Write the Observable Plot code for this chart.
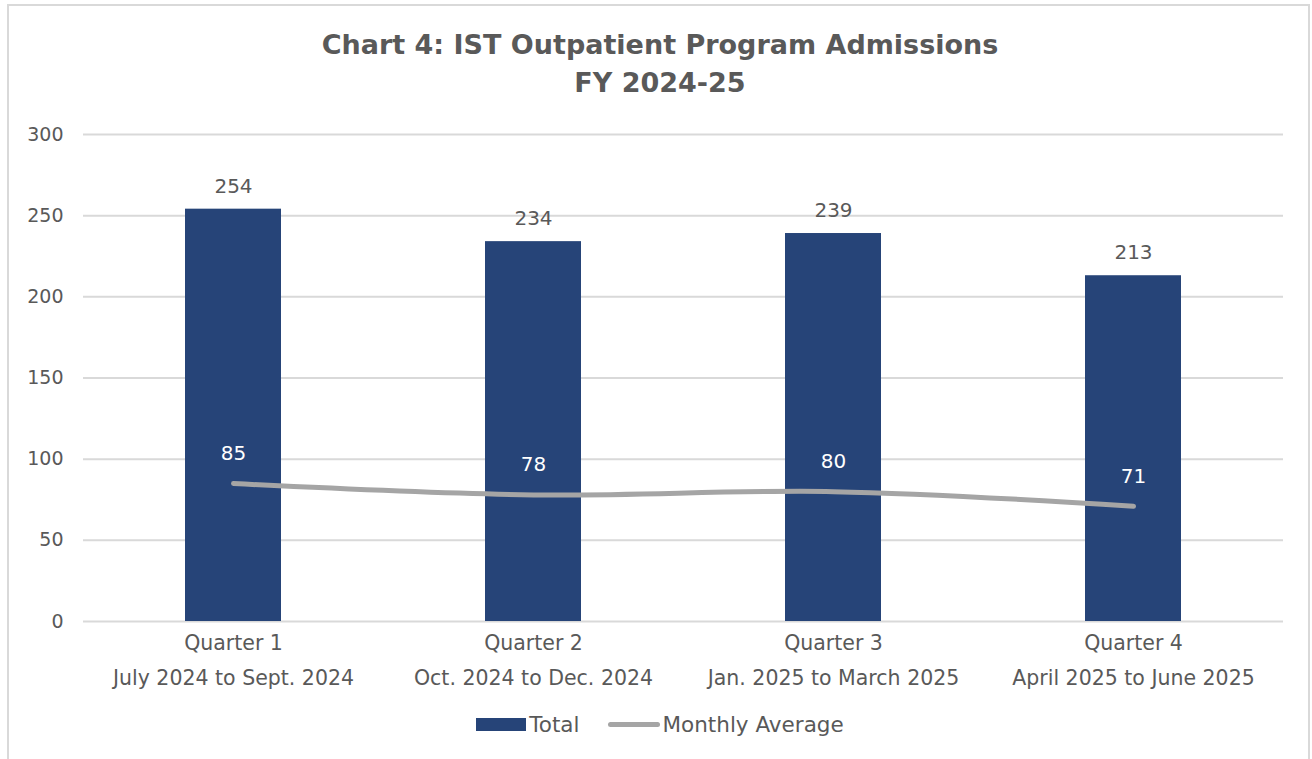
<!DOCTYPE html>
<html>
<head>
<meta charset="utf-8">
<script src="https://cdn.jsdelivr.net/npm/d3@7"></script>
<script src="https://cdn.jsdelivr.net/npm/@observablehq/plot@0.6"></script>
<style>
  html, body { margin: 0; padding: 0; background: #fff; }
  body { width: 1312px; height: 759px; overflow: hidden; position: relative; font-family: "DejaVu Sans", sans-serif; color: #595959; }
  .frame { position: absolute; left: 7px; top: 4px; width: 1303px; height: 820px; border: 2px solid #d9d9d9; box-sizing: border-box; }
  .title { position: absolute; left: 0; top: 26px; width: 1320px; text-align: center; font-weight: bold; font-size: 27px; line-height: 38px; color: #595959; }
  #chart { position: absolute; left: 0; top: 115px; }
  .legend { position: absolute; left: 0; top: 712px; width: 1320px; display: flex; justify-content: center; align-items: center; font-size: 21.5px; color: #595959; }
  .legend .item { display: flex; align-items: center; margin: 0 14px; }
  .sw-bar { width: 50px; height: 13px; background: #264478; margin-right: 3px; }
  .sw-line { width: 52px; height: 5px; border-radius: 3px; background: #a5a5a5; margin-right: 3px; }
</style>
</head>
<body>
<div class="frame"></div>
<div class="title">Chart 4: IST Outpatient Program Admissions<br>FY 2024-25</div>
<div id="chart"></div>
<div class="legend">
  <div class="item"><div class="sw-bar"></div><span>Total</span></div>
  <div class="item"><div class="sw-line"></div><span>Monthly Average</span></div>
</div>
<script>
const quarters = ["Quarter 1", "Quarter 2", "Quarter 3", "Quarter 4"];
const periods = ["July 2024 to Sept. 2024", "Oct. 2024 to Dec. 2024", "Jan. 2025 to March 2025", "April 2025 to June 2025"];
const totals = [254, 234, 239, 213];
const monthlyAverage = [85, 78, 80, 71];
const yTicks = [0, 50, 100, 150, 200, 250, 300];

const data = quarters.map((q, i) => ({q, period: periods[i], total: totals[i], avg: monthlyAverage[i]}));
const labelOf = Object.fromEntries(data.map(d => [d.q, d.q + "\n" + d.period]));

const chart = Plot.plot({
  width: 1312,
  height: 580,
  marginLeft: 83,
  marginRight: 29,
  marginTop: 19,
  marginBottom: 74,
  style: {fontFamily: "'DejaVu Sans', sans-serif", color: "#595959", background: "transparent"},
  x: {domain: quarters, paddingInner: 0.68, paddingOuter: 0.34, label: null},
  y: {domain: [0, 300], label: null},
  marks: [
    Plot.gridY(yTicks, {stroke: "#d9d9d9", strokeOpacity: 1, strokeWidth: 2}),
    Plot.axisY(yTicks, {tickSize: 0, tickPadding: 20, fontSize: 19, fill: "#595959", label: null}),
    Plot.axisX({tickSize: 0, tickPadding: 3, fontSize: 20.5, lineHeight: 1.72, fill: "#595959", label: null, tickFormat: d => labelOf[d]}),
    Plot.barY(data, {x: "q", y: "total", fill: "#264478"}),
    Plot.text(data, {x: "q", y: "total", text: d => String(d.total), dy: -23, fontSize: 20, fill: "#595959"}),
    Plot.lineY(data, {x: "q", y: "avg", stroke: "#a5a5a5", strokeWidth: 5, curve: "catmull-rom", strokeLinecap: "round"}),
    Plot.text(data, {x: "q", y: "avg", text: d => String(d.avg), dy: -30, fontSize: 20, fill: "#ffffff"})
  ]
});
document.getElementById("chart").appendChild(chart);
</script>
</body>
</html>
